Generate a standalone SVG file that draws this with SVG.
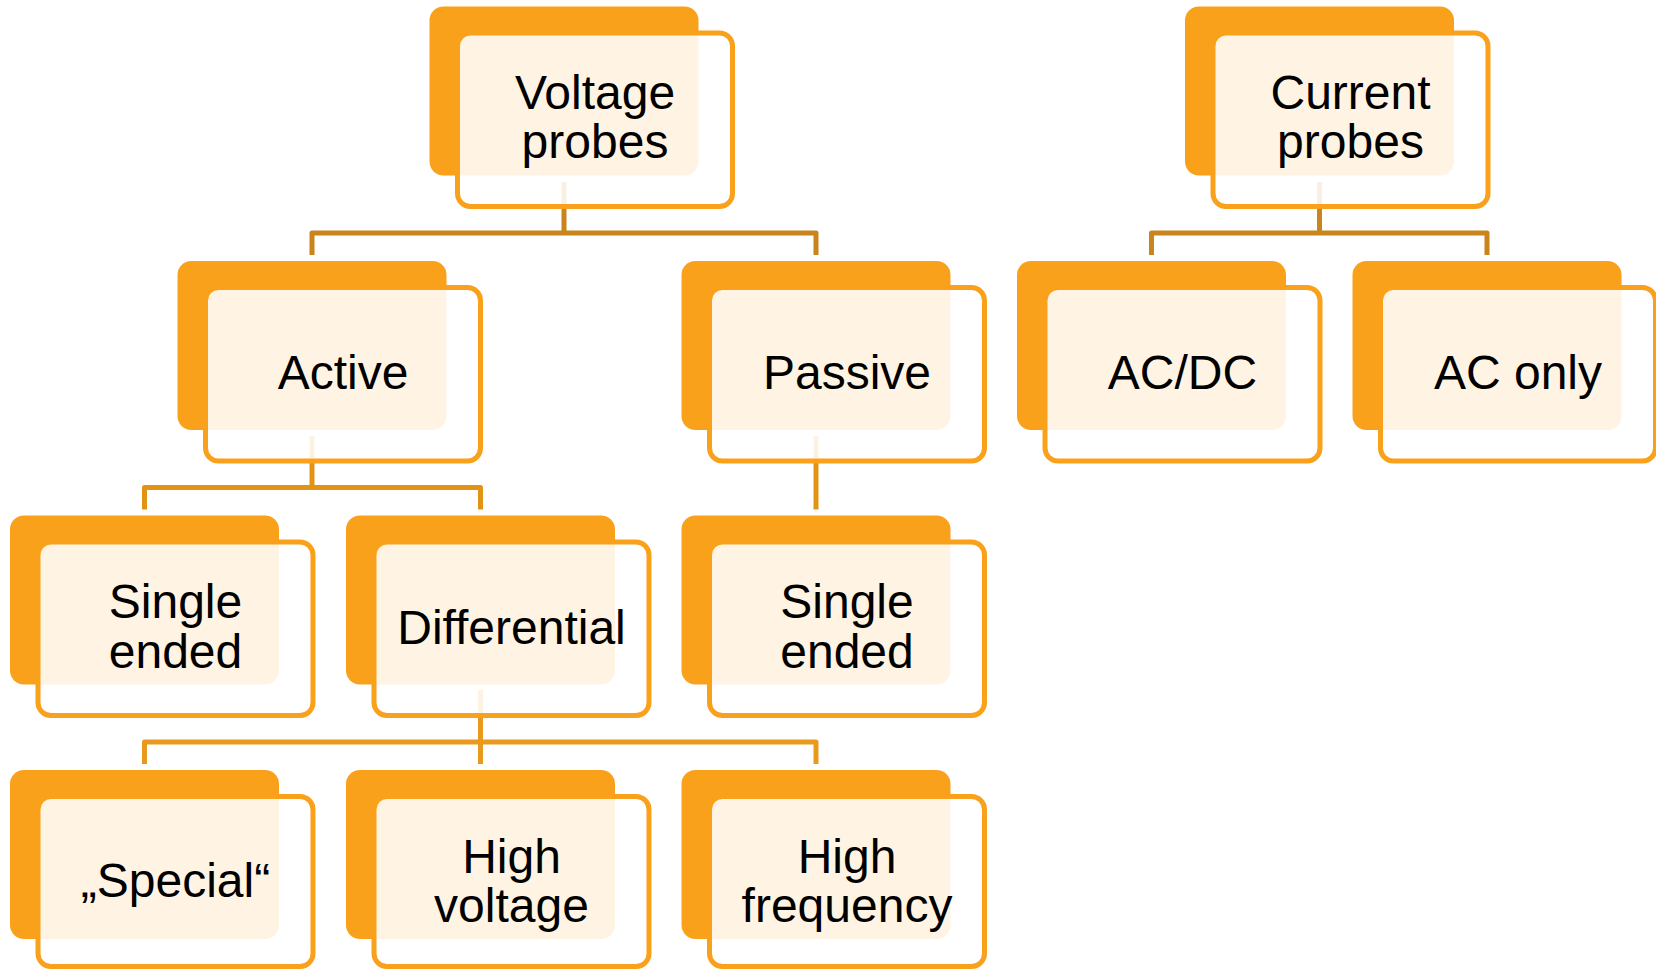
<svg xmlns="http://www.w3.org/2000/svg" width="1656" height="970" viewBox="0 0 1656 970">
  <style>
    .back { fill: #F9A11B; }
    .front { fill: #FFFFFF; fill-opacity: 0.88; stroke: #F9A11B; stroke-width: 5; }
    .lbl { font-family: "Liberation Sans", Arial, sans-serif; font-size: 48px; fill: #000000; text-anchor: middle; }
    .c1 { fill: none; stroke: #C9841A; stroke-width: 5; stroke-linejoin: round; }
    .c2 { fill: none; stroke: #E39314; stroke-width: 5; stroke-linejoin: round; }
    .c3 { fill: none; stroke: #E99A1E; stroke-width: 5; stroke-linejoin: round; }
  </style>
  <rect width="1656" height="970" fill="#FFFFFF"/>
  <g id="connectors">
    <path class="c1" d="M564 182 V233 M312 255 V233 H816 V255"/>
    <path class="c1" d="M1319.5 182 V233 M1151.5 255 V233 H1487 V255"/>
    <path class="c2" d="M312 436 V487.5 M144.5 509.5 V487.5 H480.5 V509.5"/>
    <path class="c2" d="M816 436 V509.5"/>
    <path class="c3" d="M480.5 690 V742 M144.5 764 V742 H816 V764 M480.5 742 V764"/>
  </g>
  <g id="node-voltage-probes" transform="translate(429.5,6.5)">
    <rect class="back" width="269" height="169" rx="14"/>
    <rect class="front" x="28" y="26.5" width="275" height="173.5" rx="13"/>
    <text class="lbl" x="165.5" y="102">Voltage</text>
    <text class="lbl" x="165.5" y="151.5">probes</text>
  </g>
  <g id="node-current-probes" transform="translate(1185,6.5)">
    <rect class="back" width="269" height="169" rx="14"/>
    <rect class="front" x="28" y="26.5" width="275" height="173.5" rx="13"/>
    <text class="lbl" x="165.5" y="102">Current</text>
    <text class="lbl" x="165.5" y="151.5">probes</text>
  </g>
  <g id="node-active" transform="translate(177.5,261)">
    <rect class="back" width="269" height="169" rx="14"/>
    <rect class="front" x="28" y="26.5" width="275" height="173.5" rx="13"/>
    <text class="lbl" x="165.5" y="128">Active</text>
  </g>
  <g id="node-passive" transform="translate(681.5,261)">
    <rect class="back" width="269" height="169" rx="14"/>
    <rect class="front" x="28" y="26.5" width="275" height="173.5" rx="13"/>
    <text class="lbl" x="165.5" y="128">Passive</text>
  </g>
  <g id="node-acdc" transform="translate(1017,261)">
    <rect class="back" width="269" height="169" rx="14"/>
    <rect class="front" x="28" y="26.5" width="275" height="173.5" rx="13"/>
    <text class="lbl" x="165.5" y="128">AC/DC</text>
  </g>
  <g id="node-ac-only" transform="translate(1352.5,261)">
    <rect class="back" width="269" height="169" rx="14"/>
    <rect class="front" x="28" y="26.5" width="275" height="173.5" rx="13"/>
    <text class="lbl" x="165.5" y="128">AC only</text>
  </g>
  <g id="node-active-single-ended" transform="translate(10,515.5)">
    <rect class="back" width="269" height="169" rx="14"/>
    <rect class="front" x="28" y="26.5" width="275" height="173.5" rx="13"/>
    <text class="lbl" x="165.5" y="102">Single</text>
    <text class="lbl" x="165.5" y="152.5">ended</text>
  </g>
  <g id="node-differential" transform="translate(346,515.5)">
    <rect class="back" width="269" height="169" rx="14"/>
    <rect class="front" x="28" y="26.5" width="275" height="173.5" rx="13"/>
    <text class="lbl" x="165.5" y="128">Differential</text>
  </g>
  <g id="node-passive-single-ended" transform="translate(681.5,515.5)">
    <rect class="back" width="269" height="169" rx="14"/>
    <rect class="front" x="28" y="26.5" width="275" height="173.5" rx="13"/>
    <text class="lbl" x="165.5" y="102">Single</text>
    <text class="lbl" x="165.5" y="152.5">ended</text>
  </g>
  <g id="node-special" transform="translate(10,770)">
    <rect class="back" width="269" height="169" rx="14"/>
    <rect class="front" x="28" y="26.5" width="275" height="170" rx="13"/>
    <text class="lbl" x="165.5" y="127">„Special“</text>
  </g>
  <g id="node-high-voltage" transform="translate(346,770)">
    <rect class="back" width="269" height="169" rx="14"/>
    <rect class="front" x="28" y="26.5" width="275" height="170" rx="13"/>
    <text class="lbl" x="165.5" y="102.7">High</text>
    <text class="lbl" x="165.5" y="152.2">voltage</text>
  </g>
  <g id="node-high-frequency" transform="translate(681.5,770)">
    <rect class="back" width="269" height="169" rx="14"/>
    <rect class="front" x="28" y="26.5" width="275" height="170" rx="13"/>
    <text class="lbl" x="165.5" y="102.7">High</text>
    <text class="lbl" x="165.5" y="152.2">frequency</text>
  </g>
</svg>
